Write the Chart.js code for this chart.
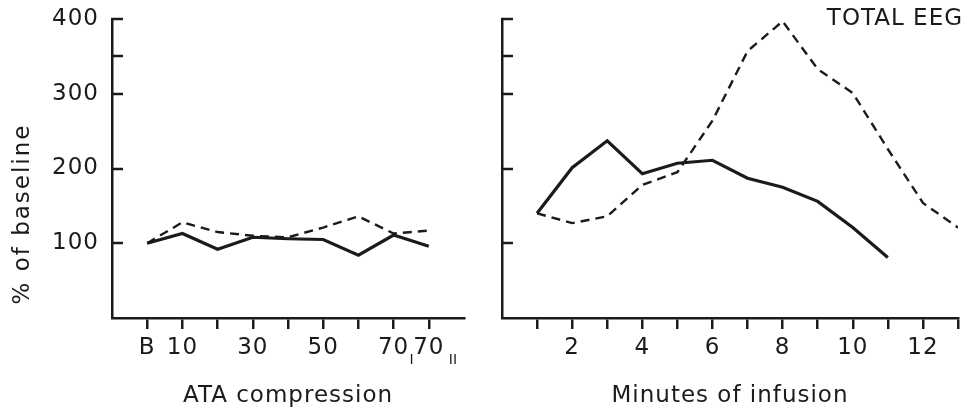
<!DOCTYPE html>
<html>
<head>
<meta charset="utf-8">
<script src="https://cdn.jsdelivr.net/npm/chart.js@4.4.1/dist/chart.umd.min.js"></script>
<style>
  html, body { margin: 0; padding: 0; background: #fff; }
  #wrap { position: relative; width: 963px; height: 411px; }
  #left { position: absolute; left: 0; top: 0; width: 480px; height: 411px; }
  #right { position: absolute; left: 480px; top: 0; width: 483px; height: 411px; }
</style>
</head>
<body>
<div id="wrap">
  <div id="left"><canvas id="ataChart"></canvas></div>
  <div id="right"><canvas id="infChart"></canvas></div>
</div>
<script>
// left panel: ATA compression
const ataCategories = ['B', '10', '20', '30', '40', '50', '60', '70 I', '70 II'];
const ataTickLabels = ['B', '10', '', '30', '', '50', '', '70', '70'];
const ataSubscripts = ['', '', '', '', '', '', '', 'I', 'II'];
const ataSolid = [100, 113, 92, 108, 106, 105, 84, 111, 96];
const ataDashed = [100, 128, 115, 110, 108, 121, 136, 113, 117];

// right panel: minutes of infusion
const infMinutes = [1, 2, 3, 4, 5, 6, 7, 8, 9, 10, 11, 12, 13];
const infSolid = [140, 201, 237, 193, 207, 211, 187, 175, 156, 121, 81];
const infDashed = [140, 127, 136, 178, 195, 264, 357, 397, 333, 301, 226, 154, 121];
const infTickLabels = ['', '2', '', '4', '', '6', '', '8', '', '10', '', '12', ''];

const yTicks = [100, 200, 300, 350, 400];
const yTickLabels = ['100', '200', '300', '', '400'];

const INK = '#1b1b1b';
const FONT = 'DejaVu Sans';

Chart.defaults.font.family = FONT;
Chart.defaults.color = INK;

// a little wider, closer to the original typeface
const spacing = {
  id: 'spacing',
  beforeDraw(chart) { chart.ctx.letterSpacing = '1px'; }
};

// y ticks point into the plot
const innerTicks = {
  id: 'innerTicks',
  afterDraw(chart) {
    const y = chart.scales.y;
    const ctx = chart.ctx;
    ctx.save();
    ctx.strokeStyle = INK;
    ctx.lineWidth = 2.5;
    y.ticks.forEach(t => {
      const py = Math.round(y.getPixelForValue(t.value));
      ctx.beginPath();
      ctx.moveTo(y.right - 1, py);
      ctx.lineTo(y.right + 11, py);
      ctx.stroke();
    });
    ctx.restore();
  }
};

const extraText = {
  id: 'extraText',
  afterDraw(chart, args, opts) {
    const ctx = chart.ctx;
    ctx.save();
    ctx.fillStyle = INK;
    if (opts.yTitle) {
      ctx.letterSpacing = '2px';
      ctx.font = `23px "${FONT}"`;
      ctx.translate(23, 214);
      ctx.rotate(-Math.PI / 2);
      ctx.textAlign = 'center';
      ctx.textBaseline = 'middle';
      ctx.fillText(opts.yTitle, 0, 0);
      ctx.setTransform(1, 0, 0, 1, 0, 0);
    }
    if (opts.subs) {
      const x = chart.scales.x;
      ctx.letterSpacing = '0px';
      ctx.font = `14px "${FONT}"`;
      ctx.textAlign = 'left';
      ctx.textBaseline = 'middle';
      opts.subs.forEach((s, i) => {
        if (!s) return;
        ctx.fillText(s, x.getPixelForValue(i) + 16 + 4 * (s.length - 1), x.top + 42);
      });
    }
    if (opts.corner) {
      ctx.letterSpacing = '1px';
      ctx.font = `23px "${FONT}"`;
      ctx.textAlign = 'right';
      ctx.textBaseline = 'middle';
      ctx.fillText(opts.corner, chart.width, 19);
    }
    ctx.restore();
  }
};

function yScale(width, showLabels) {
  return {
    min: 0,
    max: 400,
    afterBuildTicks: s => { s.ticks = yTicks.map(v => ({ value: v })); },
    afterFit: s => { s.width = width; },
    grid: { display: false },
    border: { display: true, color: INK, width: 2.5 },
    ticks: {
      display: showLabels,
      padding: 5,
      font: { size: 23 },
      callback: v => yTickLabels[yTicks.indexOf(v)]
    }
  };
}

function xScale(min, max, tickValues, labelFor, title) {
  return {
    type: 'linear',
    min,
    max,
    afterBuildTicks: s => { s.ticks = tickValues.map(v => ({ value: v })); },
    afterFit: s => { s.height = 93; },
    grid: { display: true, drawOnChartArea: false, drawTicks: true, tickLength: 11, color: INK, lineWidth: 2.5 },
    border: { display: true, color: INK, width: 2.5 },
    ticks: { padding: 5, font: { size: 23 }, maxRotation: 0, autoSkip: false, callback: labelFor },
    title: { display: true, text: title, font: { size: 23 }, padding: { top: 0, bottom: 1 } }
  };
}

function lineSet(points, dashed) {
  return {
    data: points,
    borderColor: INK,
    borderWidth: dashed ? 2.4 : 3.2,
    borderDash: dashed ? [9, 6] : [],
    pointRadius: 0,
    tension: 0,
    fill: false
  };
}

const ataIndex = ataCategories.map((c, i) => i);

new Chart(document.getElementById('ataChart'), {
  type: 'line',
  data: {
    datasets: [
      lineSet(ataDashed.map((v, i) => ({ x: i, y: v })), true),
      lineSet(ataSolid.map((v, i) => ({ x: i, y: v })), false)
    ]
  },
  options: {
    responsive: true,
    maintainAspectRatio: false,
    animation: false,
    layout: { padding: { top: 19, right: 16, left: 0, bottom: 0 } },
    plugins: {
      legend: { display: false },
      tooltip: { enabled: false },
      extraText: { yTitle: '% of baseline', subs: ataSubscripts }
    },
    scales: {
      x: xScale(-1, 9, ataIndex, v => ataTickLabels[v], 'ATA compression'),
      y: yScale(112, true)
    }
  },
  plugins: [spacing, innerTicks, extraText]
});

new Chart(document.getElementById('infChart'), {
  type: 'line',
  data: {
    datasets: [
      lineSet(infDashed.map((v, i) => ({ x: infMinutes[i], y: v })), true),
      lineSet(infSolid.map((v, i) => ({ x: infMinutes[i], y: v })), false)
    ]
  },
  options: {
    responsive: true,
    maintainAspectRatio: false,
    animation: false,
    layout: { padding: { top: 19, right: 0, left: 0, bottom: 0 } },
    plugins: {
      legend: { display: false },
      tooltip: { enabled: false },
      extraText: { corner: 'TOTAL EEG' }
    },
    scales: {
      x: xScale(0, 13, infMinutes, v => infTickLabels[v - 1], 'Minutes of infusion'),
      y: yScale(22, false)
    }
  },
  plugins: [spacing, innerTicks, extraText]
});
</script>
</body>
</html>
